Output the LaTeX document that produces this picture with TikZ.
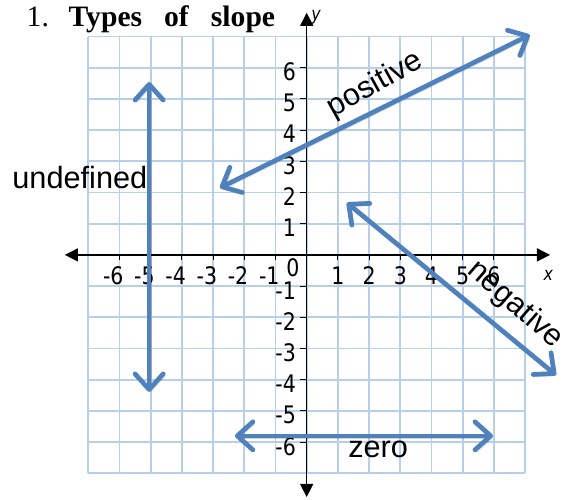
\documentclass[tikz,border=0pt]{standalone}
\usepackage{fontspec}
\setmainfont{Liberation Serif}
\setsansfont{Liberation Sans}
\newfontfamily\tickfont[FakeStretch=0.85]{DejaVu Sans}
\usetikzlibrary{arrows.meta}
\definecolor{gridblue}{RGB}{184,207,233}
\definecolor{slopeblue}{RGB}{79,129,189}
\tikzset{
  gridline/.style={draw=gridblue, line width=1.5pt},
  axisline/.style={draw=black, line width=1.1pt, {Triangle[length=4.2mm,width=4.2mm]}-{Triangle[length=4.2mm,width=4.2mm]}},
  tickline/.style={draw=black, line width=1pt},
  ticklabel/.style={font=\tickfont\fontsize{22}{24}\selectfont, inner sep=0pt},
  axislabel/.style={font=\tickfont\itshape\fontsize{17}{18}\selectfont, inner sep=0pt},
  slopearrow/.style={draw=slopeblue, line width=4.3pt, line cap=round,
    {Straight Barb[length=5mm,width=9mm,round]}-{Straight Barb[length=5mm,width=9mm,round]},
    preaction={draw=black, opacity=0.18, transform canvas={shift={(0.07,-0.07)}}}},
  slopelabel/.style={font=\sffamily\fontsize{28}{30}\selectfont, inner sep=0pt},
  titlelabel/.style={font=\rmfamily\fontsize{27}{29}\selectfont, inner sep=0pt, anchor=base west}
}
\begin{document}
\begin{tikzpicture}[x=1cm,y=1cm]
\useasboundingbox (-9.83,-7.85) rectangle (8.375,8.17);
\fill[white] (-9.83,-7.85) rectangle (8.375,8.17);
% grid
\draw[gridline] (-7,-7) grid (7,7);
% axes
\coordinate (xl) at (-7.75,0);
\coordinate (xr) at (7.8,0);
\coordinate (yb) at (0,-7.76);
\coordinate (yt) at (0,7.76);
\draw[axisline] (xl) -- (xr);
\draw[axisline] (yb) -- (yt);
% ticks and labels
\foreach \i in {-6,...,-1,1,2,...,6} {
  \draw[tickline] (\i,0) -- (\i,-0.17);
  \draw[tickline] (-0.2,\i) -- (0,\i);
}
\foreach \i in {1,...,6} {
  \node[ticklabel] (xlab\i) at (\i,-0.66) {\i};
  \node[ticklabel, anchor=east] (ylab\i) at (-0.34,\i-0.13) {\i};
}
\foreach \i in {1,...,6} {
  \node[ticklabel] (xlabm\i) at (-\i-0.2,-0.66) {-\i};
  \node[ticklabel, anchor=east] (ylabm\i) at (-0.34,-\i-0.14) {-\i};
}
\node[ticklabel] (zero0) at (-0.44,-0.4) {0};
\node[axislabel] (ylabel) at (0.3,7.62) {y};
\node[axislabel] (xlabel) at (7.74,-0.66) {x};
% slope lines
\coordinate (pA) at (-2.78,2.15);
\coordinate (pB) at (7.15,7.05);
\coordinate (uA) at (-5.05,5.54);
\coordinate (uB) at (-5.05,-4.39);
\coordinate (nA) at (1.29,1.67);
\coordinate (nB) at (7.99,-3.85);
\coordinate (zA) at (-2.3,-5.8);
\coordinate (zB) at (5.97,-5.8);
\draw[slopearrow] (pA) -- (pB);
\draw[slopearrow] (uA) -- (uB);
\draw[slopearrow] (nA) -- (nB);
\draw[slopearrow] (zA) -- (zB);
% labels
\node[slopelabel, rotate=29] (poslab) at (2.19,5.45) {positive};
\node[slopelabel] (undeflab) at (-7.27,2.47) {undefined};
\node[slopelabel, rotate=-41] (neglab) at (6.68,-1.6) {negative};
\node[slopelabel] (zerolab) at (2.29,-6.22) {zero};
% title
\node[titlelabel] (title) at (-8.98,7.31) {1.\hspace{18pt}\textbf{Types}\hspace{20pt}\textbf{of}\hspace{20pt}\textbf{slope}};
\end{tikzpicture}
\end{document}
